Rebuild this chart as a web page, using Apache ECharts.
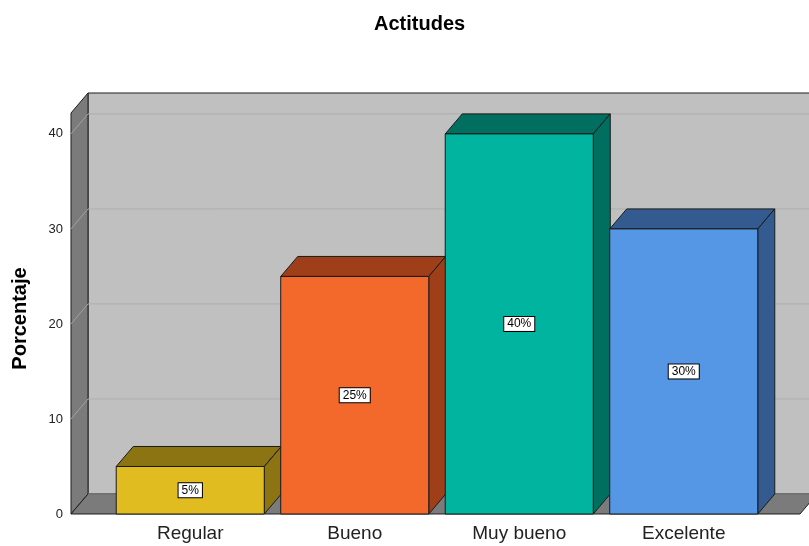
<!DOCTYPE html>
<html>
<head>
<meta charset="utf-8">
<script src="https://cdn.jsdelivr.net/npm/echarts@6/dist/echarts.min.js"></script>
<style>html,body{margin:0;padding:0;background:#fff}#c{width:809px;height:546px}</style>
</head>
<body>
<div id="c"></div>
<script>
const title = 'Actitudes';
const yAxisName = 'Porcentaje';
const categories = ['Regular', 'Bueno', 'Muy bueno', 'Excelente'];
const values = [5, 25, 40, 30];
const gridValues = [10, 20, 30, 40];

const frontColors = ['#E0BC20', '#F2692B', '#00B49F', '#5597E5'];
const sideColors = ['#8C7413', '#9E3F1A', '#006F5F', '#345B8F'];
const DX = 17, DY = -20;
const FONT = '"Liberation Sans", Arial, sans-serif';

const chart = echarts.init(document.getElementById('c'), null, {renderer: 'canvas'});

function wallsRender(params, api) {
  const cs = params.coordSys;
  const L = cs.x - 37, R = cs.x + cs.width + 34;
  const T = cs.y, B = api.coord([0, 0])[1];
  const children = [];
  children.push({type: 'polygon', shape: {points: [[L + DX, T + DY], [R + DX, T + DY], [R + DX, B + DY], [L + DX, B + DY]]},
    style: {fill: '#C0C0C0', stroke: '#1e1e1e', lineWidth: 1}});
  children.push({type: 'polygon', shape: {points: [[L, B], [L, T], [L + DX, T + DY], [L + DX, B + DY]]},
    style: {fill: '#7B7B7B', stroke: '#1e1e1e', lineWidth: 1}});
  gridValues.forEach(function (v) {
    const y = api.coord([0, v])[1];
    children.push({type: 'line', shape: {x1: L + DX, y1: y + DY, x2: R + DX, y2: y + DY},
      style: {stroke: '#AEAEAE', lineWidth: 1}});
    children.push({type: 'line', shape: {x1: L, y1: y, x2: L + DX, y2: y + DY},
      style: {stroke: '#A2A2A2', lineWidth: 1}});
  });
  children.push({type: 'polygon', shape: {points: [[L, B], [L + DX, B + DY], [R + DX, B + DY], [R, B]]},
    style: {fill: '#7B7B7B', stroke: '#1e1e1e', lineWidth: 1}});
  children.push({type: 'line', shape: {x1: L + DX, y1: B + DY, x2: R + DX, y2: B + DY},
    style: {stroke: '#9a9a9a', lineWidth: 1}});
  return {type: 'group', children: children};
}

function barRender(params, api) {
  const i = api.value(0);
  const v = api.value(1);
  const top = api.coord([i, v]);
  const base = api.coord([i, 0]);
  const w = api.size([1, 0])[0] * 0.9;
  const l = top[0] - w / 2, r = top[0] + w / 2;
  const t = top[1], b = base[1];
  const stroke = '#1a1a1a';
  return {type: 'group', children: [
    {type: 'polygon', shape: {points: [[l, t], [l + DX, t + DY], [r + DX, t + DY], [r, t]]},
      style: {fill: sideColors[i], stroke: stroke, lineWidth: 1}},
    {type: 'polygon', shape: {points: [[r, t], [r + DX, t + DY], [r + DX, b + DY], [r, b]]},
      style: {fill: sideColors[i], stroke: stroke, lineWidth: 1}},
    {type: 'rect', shape: {x: l, y: t, width: w, height: b - t},
      style: {fill: frontColors[i], stroke: stroke, lineWidth: 1}},
    {type: 'text', x: top[0], y: (t + b) / 2,
      style: {text: v + '%', fontFamily: FONT, fontSize: 12, fill: '#000', align: 'center', verticalAlign: 'middle',
        backgroundColor: '#fff', borderColor: '#000', borderWidth: 1, padding: [1, 3, 0, 3], lineHeight: 13}}
  ]};
}

chart.setOption({
  animation: false,
  backgroundColor: '#fff',
  title: {text: title, left: 369, top: 9,
    textStyle: {fontFamily: FONT, fontSize: 20, fontWeight: 'bold', color: '#000'}},
  grid: {left: 108, right: 43, top: 113, bottom: 32},
  xAxis: {type: 'category', data: categories,
    axisLine: {show: false}, axisTick: {show: false}, splitLine: {show: false},
    axisLabel: {fontFamily: FONT, fontSize: 19, color: '#222', margin: 10}},
  yAxis: {type: 'value', min: 0, max: 42.2, interval: 10, offset: 37,
    axisLine: {show: false}, axisTick: {show: false}, splitLine: {show: false},
    axisLabel: {fontFamily: FONT, fontSize: 13, color: '#222', margin: 8, showMaxLabel: false},
    name: yAxisName, nameLocation: 'middle', nameGap: 41, nameRotate: 90,
    nameTextStyle: {fontFamily: FONT, fontSize: 20, fontWeight: 'bold', color: '#000', padding: [0, 10, 0, 0]}},
  series: [
    {type: 'custom', data: [[0, 0]], renderItem: wallsRender, silent: true, z: 1, clip: false},
    {type: 'custom', data: values.map(function (v, i) { return [i, v]; }), renderItem: barRender, z: 2, clip: false,
      encode: {x: 0, y: 1}}
  ]
});
</script>
</body>
</html>
